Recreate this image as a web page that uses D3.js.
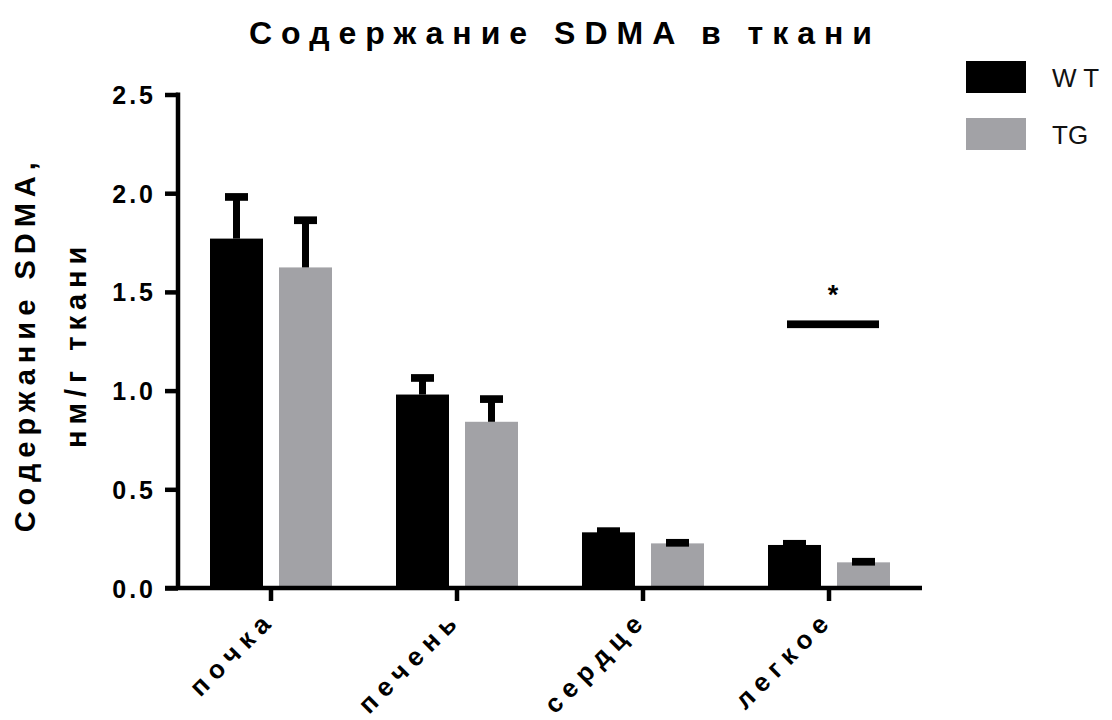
<!DOCTYPE html>
<html>
<head>
<meta charset="utf-8">
<script src="https://cdn.jsdelivr.net/npm/d3@7/dist/d3.min.js"></script>
<style>
  html, body { margin: 0; padding: 0; background: #fff; }
  svg { display: block; }
</style>
</head>
<body>
<svg id="chart" width="1112" height="720"></svg>
<script>
// Tissue SDMA content, mean with upper SEM
const categories = ["почка", "печень", "сердце", "легкое"];
const groups = ["WT", "TG"];
const groupLabels = ["W T", "TG"];
const wtMean = [1.770, 0.980, 0.282, 0.218];
const wtSem  = [0.211, 0.084, 0.006, 0.006];
const tgMean = [1.624, 0.842, 0.226, 0.130];
const tgSem  = [0.239, 0.115, 0.003, 0.003];
const yTicks = [0, 0.5, 1.0, 1.5, 2.0, 2.5];
// significance bracket over the lung pair
const sigCategory = "легкое";
const sigLevel = 1.336;
const sigMark = "*";

const colors = { WT: "#000000", TG: "#a2a2a6" };
const boldFont = "'Liberation Sans', Arial, sans-serif";

const svg = d3.select("#chart");

const y = d3.scaleLinear().domain([0, 2.5]).range([588, 94.5]);
const x0 = d3.scaleBand().domain(categories).range([178, 922]).padding(0);
const x1 = d3.scaleBand().domain(groups).range([0, 122]).paddingInner(16 / 69);
const groupOffset = (x0.bandwidth() - 122) / 2;

const rows = categories.map((c, i) => ({
  cat: c,
  vals: [
    { g: "WT", mean: wtMean[i], sem: wtSem[i] },
    { g: "TG", mean: tgMean[i], sem: tgSem[i] }
  ]
}));

// bars
const gGroups = svg.append("g").selectAll("g").data(rows).join("g")
  .attr("transform", d => `translate(${x0(d.cat) + groupOffset},0)`);

gGroups.selectAll("rect.bar").data(d => d.vals).join("rect")
  .attr("class", "bar")
  .attr("x", d => x1(d.g))
  .attr("width", x1.bandwidth())
  .attr("y", d => y(d.mean))
  .attr("height", d => y(0) - y(d.mean))
  .attr("fill", d => colors[d.g]);

// error bars (upper only): stem + thick cap
const capW = 23, capH = 7.7, stemW = 7;
gGroups.selectAll("rect.stem").data(d => d.vals).join("rect")
  .attr("class", "stem")
  .attr("x", d => x1(d.g) + x1.bandwidth() / 2 - stemW / 2)
  .attr("width", stemW)
  .attr("y", d => y(d.mean + d.sem))
  .attr("height", d => Math.max(0, y(d.mean) - y(d.mean + d.sem)))
  .attr("fill", "#000");
gGroups.selectAll("rect.cap").data(d => d.vals).join("rect")
  .attr("class", "cap")
  .attr("x", d => x1(d.g) + x1.bandwidth() / 2 - capW / 2)
  .attr("width", capW)
  .attr("y", d => y(d.mean + d.sem) - capH / 2)
  .attr("height", capH)
  .attr("fill", "#000");

// Y axis
const yAxis = svg.append("g")
  .attr("transform", "translate(178,0)")
  .call(d3.axisLeft(y).tickValues(yTicks).tickFormat(d3.format(".1f")).tickSize(13).tickSizeOuter(0).tickPadding(9));
yAxis.select(".domain").remove();
yAxis.selectAll(".tick line").attr("stroke", "#000").attr("stroke-width", 4.5);
yAxis.selectAll(".tick text")
  .attr("fill", "#000")
  .attr("font-size", 25)
  .style("font-family", boldFont)
  .style("font-weight", "bold")
  .style("font-size", "25px")
  .style("letter-spacing", "3px")
  .attr("dy", "0.36em");
svg.append("line")
  .attr("x1", 178).attr("x2", 178)
  .attr("y1", y(2.5) - 2).attr("y2", y(0))
  .attr("stroke", "#000").attr("stroke-width", 4.5);

// X axis
const xAxis = svg.append("g")
  .attr("transform", `translate(0,${y(0)})`)
  .call(d3.axisBottom(x0).tickSize(13).tickSizeOuter(0).tickFormat(""));
xAxis.select(".domain").remove();
xAxis.selectAll(".tick line").attr("stroke", "#000").attr("stroke-width", 4.5);
svg.append("line")
  .attr("x1", 165).attr("x2", 922)
  .attr("y1", y(0)).attr("y2", y(0))
  .attr("stroke", "#000").attr("stroke-width", 4.5);

// rotated category labels
svg.append("g").selectAll("text").data(categories).join("text")
  .attr("transform", d => `translate(${x0(d) + x0.bandwidth() / 2 + 6},${621}) rotate(-45)`)
  .attr("text-anchor", "end")
  .style("font-family", boldFont)
  .style("font-weight", "bold")
  .style("font-size", "26px")
  .style("letter-spacing", "7px")
  .text(d => d);

// significance bar and star
const sx = x0(sigCategory) + groupOffset;
svg.append("rect")
  .attr("x", sx + 19).attr("width", 92)
  .attr("y", y(sigLevel) - capH / 2).attr("height", capH)
  .attr("fill", "#000");
svg.append("text")
  .attr("x", sx + 65).attr("y", y(sigLevel) - 20)
  .attr("text-anchor", "middle")
  .style("font-family", boldFont)
  .style("font-weight", "bold")
  .style("font-size", "27px")
  .text(sigMark);

// title
svg.append("text")
  .attr("x", 565).attr("y", 44)
  .attr("text-anchor", "middle")
  .style("font-family", boldFont)
  .style("font-weight", "bold")
  .style("font-size", "32px")
  .style("letter-spacing", "9px")
  .text("Содержание SDMA в ткани");

// Y axis title, two lines
const yTitle = svg.append("text")
  .attr("transform", `translate(0,${(y(0) + y(2.5)) / 2 + 3}) rotate(-90)`)
  .attr("text-anchor", "middle")
  .style("font-family", boldFont)
  .style("font-weight", "bold")
  .style("font-size", "29px")
  .style("letter-spacing", "6px");
yTitle.append("tspan").attr("x", 0).attr("y", 35).text("Содержание SDMA,");
yTitle.append("tspan").attr("x", 0).attr("y", 86).text("нм/г ткани");

// legend
const legend = svg.append("g").selectAll("g").data(groups).join("g")
  .attr("transform", (d, i) => `translate(966,${61 + i * 57})`);
legend.append("rect")
  .attr("width", 60).attr("height", 32)
  .attr("fill", d => colors[d]);
legend.append("text")
  .attr("x", 86).attr("y", 26)
  .style("font-family", "'Liberation Sans', Arial, sans-serif")
  .style("font-size", "26px")
  .attr("fill", "#111")
  .text((d, i) => groupLabels[i]);
</script>
</body>
</html>
